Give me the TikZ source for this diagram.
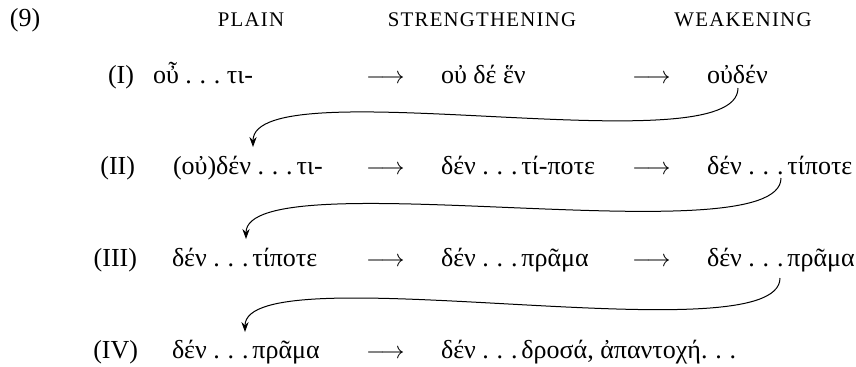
\documentclass[tikz,border=0pt]{standalone}
\usepackage{fontspec}
\setmainfont{Liberation Serif}
\newfontfamily\grk{Liberation Serif}
\newfontfamily\hdf[LetterSpace=6]{Liberation Serif}
\usetikzlibrary{arrows.meta}
\newcommand{\dts}{.\kern.3em.\kern.3em.\kern.15em}
\begin{document}
\begin{tikzpicture}[x=0.5pt,y=-0.5pt,
  every node/.style={inner sep=0pt, outer sep=0pt},
  hd/.style={anchor=base, font=\hdf\fontsize{10.4}{12}\selectfont},
  lab/.style={anchor=base east, font=\fontsize{13}{15}\selectfont},
  gk/.style={anchor=base west, font=\grk\fontsize{13}{15}\selectfont},
  arr/.style={anchor=base west, font=\fontsize{13}{15}\selectfont},
  curv/.style={-{Stealth[length=5pt,width=3.6pt]}, line width=0.5pt}]
\useasboundingbox (0,0) rectangle (856,366);
% headers
\node[anchor=base west, font=\fontsize{13}{15}\selectfont] (ex) at (10,26) {(9)};
\node[hd] (h1) at (251,26) {PLAIN};
\node[hd] (h2) at (482,26) {STRENGTHENING};
\node[hd] (h3) at (743,26) {WEAKENING};
% row I
\node[lab] (r1) at (134,83) {(I)};
\node[gk] (c11) at (153,83) {οὖ \dts\kern.1em τι-};
\node[arr] (a11) at (366,83) {$\longrightarrow$};
\node[gk] (c12) at (441,83) {οὐ δέ ἕν};
\node[arr] (a12) at (632,83) {$\longrightarrow$};
\node[gk] (c13) at (707,83) {οὐδέν};
% row II
\node[lab] (r2) at (135,174.5) {(II)};
\node[gk] (c21) at (173,174.5) {(οὐ)δέν \dts τι-};
\node[arr] (a21) at (366,174.5) {$\longrightarrow$};
\node[gk] (c22) at (441,174.5) {δέν \dts τί-ποτε};
\node[arr] (a22) at (632,174.5) {$\longrightarrow$};
\node[gk] (c23) at (707,174.5) {δέν \dts τίποτε};
% row III
\node[lab] (r3) at (137,266) {(III)};
\node[gk] (c31) at (172,266) {δέν \dts τίποτε};
\node[arr] (a31) at (366,266) {$\longrightarrow$};
\node[gk] (c32) at (441,266) {δέν \dts πρᾶμα};
\node[arr] (a32) at (632,266) {$\longrightarrow$};
\node[gk] (c33) at (707,266) {δέν \dts πρᾶμα};
% row IV
\node[lab] (r4) at (138,358) {(IV)};
\node[gk] (c41) at (172,358) {δέν \dts πρᾶμα};
\node[arr] (a41) at (366,358) {$\longrightarrow$};
\node[gk] (c42) at (441,358) {δέν \dts δροσά, ἀπαντοχή\dts};
% curved connectors
\coordinate (s1) at (738,88);  \coordinate (t1) at (253,147);
\coordinate (s2) at (781,178); \coordinate (t2) at (246,239);
\coordinate (s3) at (780,278); \coordinate (t3) at (245,332);
\draw[curv] (s1) .. controls +(0,80) and +(0,-80) .. (t1);
\draw[curv] (s2) .. controls +(0,80) and +(0,-80) .. (t2);
\draw[curv] (s3) .. controls +(0,80) and +(0,-80) .. (t3);
\end{tikzpicture}
\end{document}
